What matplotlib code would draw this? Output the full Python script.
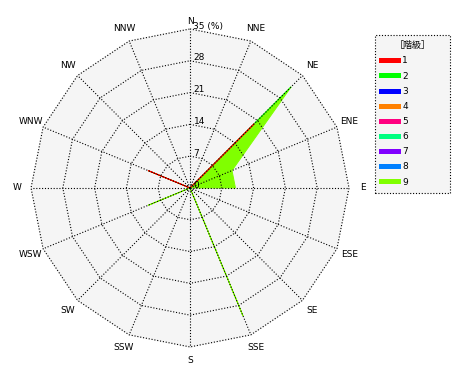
import numpy as np
import matplotlib
matplotlib.use("Agg")
import matplotlib.pyplot as plt
from matplotlib.lines import Line2D

plt.rcParams['font.family'] = ['DejaVu Sans', 'Noto Sans CJK JP']

# wind directions (clockwise from north)
directions = ['N', 'NNE', 'NE', 'ENE', 'E', 'ESE', 'SE', 'SSE',
              'S', 'SSW', 'SW', 'WSW', 'W', 'WNW', 'NW', 'NNW']

# frequency (%) per class, per direction
class1 = [0, 0, 20.0, 0, 0, 0, 0, 0, 0, 0, 0, 0, 0, 10.0, 0, 0]
class2 = [0, 0, 31.5, 0, 0, 0, 0, 0, 0, 0, 0, 0, 0, 0, 0, 0]
class3 = [0] * 16
class4 = [0] * 16
class5 = [0] * 16
class6 = [0] * 16
class7 = [0] * 16
class8 = [0] * 16
class9 = [0, 0, 31.5, 10.0, 10.0, 0, 0, 30.5, 0, 0, 0, 10.0, 0, 10.0, 0, 0]

class_labels = ['1', '2', '3', '4', '5', '6', '7', '8', '9']
class_colors = ['#ff0000', '#00ff00', '#0000ff', '#ff8000', '#ff0080',
                '#00ff80', '#8000ff', '#0080ff', '#80ff00']

ring_values = [7, 14, 21, 28, 35]
tick_labels = ['0', '7', '14', '21', '28', '35 (%)']
rmax = 35

fig = plt.figure(figsize=(4.7, 3.8), dpi=100)
ax = fig.add_axes([0.066, 0.087, 0.6766, 0.8368], projection='polar')
ax.set_theta_zero_location('N')
ax.set_theta_direction(-1)
ax.set_ylim(0, rmax)
ax.grid(False)
ax.set_xticks([])
ax.set_yticks([])
ax.spines['polar'].set_visible(False)
ax.patch.set_alpha(0)

theta = np.radians(np.arange(len(directions)) * 22.5)
th_closed = np.append(theta, theta[0])

# background polygon
ax.fill(th_closed, [rmax] * len(th_closed), color='#f5f5f5', zorder=0, clip_on=False)

# data, widest class underneath
all_classes = [class1, class2, class3, class4, class5, class6, class7, class8, class9]
for i in range(len(all_classes) - 1, -1, -1):
	vals = all_classes[i]
	if max(vals) == 0:
		continue
	ax.fill(theta, vals, facecolor=class_colors[i], edgecolor=class_colors[i],
	        lw=0.7, zorder=2 + (9 - i) * 0.1, clip_on=False)

# polygonal grid
dots = (0, (1, 1.6))
for r in ring_values:
	ax.plot(th_closed, [r] * len(th_closed), color='black', ls=dots, lw=0.8,
	        zorder=5, clip_on=False)
for t in theta:
	ax.plot([t, t], [0, rmax], color='black', ls=dots, lw=0.8, zorder=5, clip_on=False)

# direction labels
for t, d in zip(theta, directions):
	rr = 36.6 if d == 'N' else 38.0
	ax.text(t, rr, d, ha='center', va='center', fontsize=6.5)

# radial tick labels along the north spoke
for v, lab in zip([0] + ring_values, tick_labels):
	ax.annotate(lab, xy=(0, v), xytext=(2.5, 2), textcoords='offset points',
	            ha='left', va='center', fontsize=6.5)

handles = [Line2D([0], [0], color=c, lw=3.6) for c in class_colors]
leg = fig.legend(handles, class_labels, title='［階級］', loc='upper left',
                 bbox_to_anchor=(0.798, 0.908, 0.16, 0), mode='expand',
                 fontsize=6.5, title_fontsize=6.5, fancybox=False,
                 edgecolor='black', facecolor='#f5f5f5', framealpha=1,
                 handlelength=1.8, handletextpad=0.5, labelspacing=0.68,
                 borderpad=0.7, borderaxespad=0)
leg.get_frame().set_linestyle(dots)
leg.get_frame().set_linewidth(0.8)

fig.savefig('out.png', dpi=100, facecolor='white')
